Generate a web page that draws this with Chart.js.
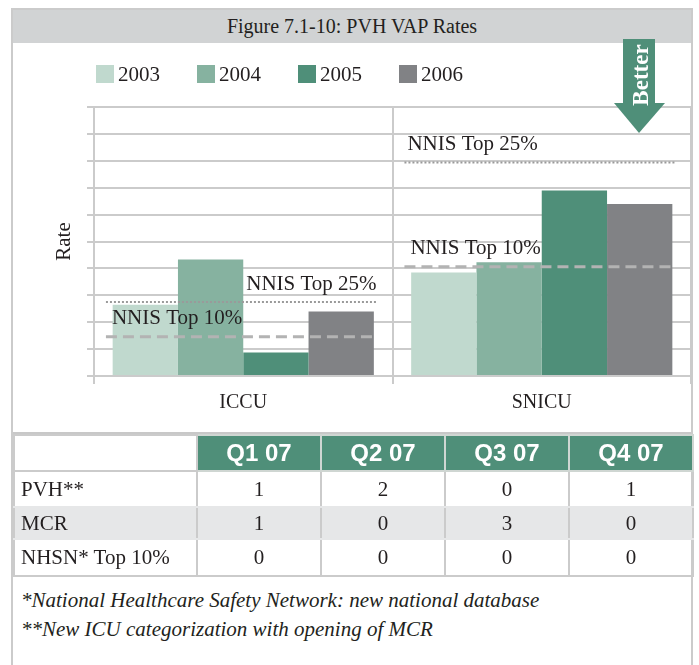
<!DOCTYPE html>
<html>
<head>
<meta charset="utf-8">
<script src="https://cdn.jsdelivr.net/npm/chart.js@4"></script>
<style>
  body { margin: 0; background: #fff; font-family: "Liberation Serif", serif; color: #231f20; }
  #frame { position: absolute; left: 11px; top: 8px; width: 678px; height: 680px; border: 2px solid #cbcbcb; border-bottom: none; }
  #title { position: absolute; left: 13px; top: 10px; width: 678px; height: 33px; background: #d1d3d4; text-align: center; font-size: 20px; line-height: 33px; }
  #chartBox { position: absolute; left: 13px; top: 43px; width: 678px; height: 390px; }
  #legend { position: absolute; left: 96px; top: 62px; display: flex; font-size: 21px; line-height: 24px; }
  #legend .item { width: 101px; display: flex; align-items: center; }
  #legend .sw { width: 18px; height: 18px; margin-right: 4px; }
  #sep { position: absolute; left: 13px; top: 432px; width: 678px; height: 3px; background: #c8c8c8; }
  #tbl { position: absolute; left: 13px; top: 434px; border-collapse: collapse; table-layout: fixed; width: 678px; font-size: 21px; }
  #tbl td, #tbl th { border: 2px solid #cbcbcb; padding: 0; text-align: center; }
  #tbl th { background: #4f8f79; color: #fff; font-family: "Liberation Sans Narrow", "Liberation Sans", sans-serif; font-weight: bold; font-size: 24px; height: 34px; border-color: #cfd6d2; }
  #tbl th.blank { background: #fff; border-color: #cbcbcb; }
  #tbl td.lab { text-align: left; padding-left: 6px; }
  #tbl tr.first td { height: 34px; border-bottom-color: #e6e7e8; }
  #tbl tr.shade td { height: 30px; background: #e6e7e8; border-top-color: #e6e7e8; border-bottom-color: #e6e7e8; }
  #tbl tr.last td { height: 35px; border-top-color: #e6e7e8; }
  #notes { position: absolute; left: 21px; top: 586px; font-size: 21px; font-style: italic; line-height: 29px; }
  #arrow { position: absolute; left: 0; top: 0; }
</style>
</head>
<body>
<div id="frame"></div>
<div id="title">Figure 7.1-10: PVH VAP Rates</div>
<div id="chartBox"><canvas id="myChart" width="678" height="390"></canvas></div>
<div id="legend"></div>
<svg id="arrow" width="699" height="150">
  <rect x="623" y="39" width="32" height="65" fill="#4f8f79"/>
  <polygon points="614,103 665,103 639,133" fill="#4f8f79"/>
  <text x="0" y="0" transform="translate(648,75) rotate(-90)" text-anchor="middle" fill="#fff"
        font-family="Liberation Serif" font-weight="bold" font-size="23">Better</text>
</svg>
<div id="sep"></div>
<table id="tbl"></table>
<div id="notes">*National Healthcare Safety Network: new national database<br>**New ICU categorization with opening of MCR</div>

<script>
const categories = ['ICCU', 'SNICU'];
const years = ['2003', '2004', '2005', '2006'];
const rate2003 = [2.65, 3.85];
const rate2004 = [4.33, 4.23];
const rate2005 = [0.87, 6.9];
const rate2006 = [2.4, 6.39];
const nnisTop25 = [2.75, 7.94];
const nnisTop10 = [1.46, 4.06];

const quarters = ['Q1 07', 'Q2 07', 'Q3 07', 'Q4 07'];
const rowNames = ['PVH**', 'MCR', 'NHSN* Top 10%'];
const pvhCounts = [1, 2, 0, 1];
const mcrCounts = [1, 0, 3, 0];
const nhsnCounts = [0, 0, 0, 0];

const colors = ['#c0d9ce', '#86b2a0', '#4f8f79', '#818285'];
const gridColor = '#cbcbcb';

// legend
const legend = document.getElementById('legend');
years.forEach((y, i) => {
  legend.innerHTML += '<div class="item"><span class="sw" style="background:' + colors[i] + '"></span>' + y + '</div>';
});

// table
const rows = [pvhCounts, mcrCounts, nhsnCounts];
let html = '<colgroup><col style="width:183px">' + quarters.map(() => '<col style="width:124px">').join('') + '</colgroup>';
html += '<tr><th class="blank"></th>' + quarters.map(q => '<th>' + q + '</th>').join('') + '</tr>';
rows.forEach((r, i) => {
  const cls = i == 0 ? 'first' : (i == 1 ? 'shade' : 'last');
  html += '<tr class="' + cls + '"><td class="lab">' + rowNames[i] + '</td>' + r.map(v => '<td>' + v + '</td>').join('') + '</tr>';
});
document.getElementById('tbl').innerHTML = html;

// NNIS reference lines + labels
const nnisLines = {
  id: 'nnisLines',
  afterDatasetsDraw(chart) {
    const ctx = chart.ctx;
    const x = chart.scales.x, y = chart.scales.y;
    const w = x.getPixelForValue(1) - x.getPixelForValue(0);
    const label25 = [0.01, -0.45];
    ctx.save();
    categories.forEach((c, i) => {
      const cx = x.getPixelForValue(i);
      const x0 = cx - 0.46 * w, x1 = cx + 0.45 * w;
      // top 25% dotted
      let yy = y.getPixelForValue(nnisTop25[i]);
      ctx.strokeStyle = '#9a9a9a';
      ctx.lineWidth = 2;
      ctx.setLineDash([2, 2]);
      ctx.beginPath(); ctx.moveTo(x0, yy); ctx.lineTo(x1, yy); ctx.stroke();
      ctx.font = '21px "Liberation Serif"';
      ctx.fillStyle = '#231f20';
      ctx.textBaseline = 'middle';
      ctx.fillText('NNIS Top 25%', cx + label25[i] * w, yy - 18);
      // top 10% dashed
      yy = y.getPixelForValue(nnisTop10[i]);
      ctx.strokeStyle = '#b3b3b3';
      ctx.lineWidth = 3;
      ctx.setLineDash([11, 6]);
      ctx.beginPath(); ctx.moveTo(x0, yy); ctx.lineTo(x1, yy); ctx.stroke();
      ctx.fillText('NNIS Top 10%', cx - 0.44 * w, yy - 18);
    });
    ctx.restore();
  }
};

const ctx = document.getElementById('myChart');

new Chart(ctx, {
  type: 'bar',
  data: {
    labels: categories,
    datasets: [
      { label: years[0], data: rate2003, backgroundColor: colors[0] },
      { label: years[1], data: rate2004, backgroundColor: colors[1] },
      { label: years[2], data: rate2005, backgroundColor: colors[2] },
      { label: years[3], data: rate2006, backgroundColor: colors[3] }
    ]
  },
  options: {
    responsive: false,
    animation: false,
    barPercentage: 1,
    categoryPercentage: 0.875,
    layout: { padding: { left: 20, top: 64, right: 0, bottom: 11 } },
    plugins: {
      legend: { display: false },
      tooltip: { enabled: false }
    },
    scales: {
      x: {
        grid: { color: gridColor, lineWidth: 2, offset: true, drawTicks: true, tickLength: 8 },
        border: { color: gridColor, width: 2 },
        ticks: { color: '#231f20', padding: 7, font: { family: 'Liberation Serif', size: 20 } }
      },
      y: {
        min: 0,
        max: 10,
        grid: { color: gridColor, lineWidth: 2, drawTicks: true, tickLength: 7 },
        border: { color: gridColor, width: 2 },
        ticks: { display: false, stepSize: 1 },
        title: {
          display: true,
          text: 'Rate',
          color: '#231f20',
          font: { family: 'Liberation Serif', size: 21 },
          padding: { top: 18.4, bottom: 10.4 }
        }
      }
    }
  },
  plugins: [nnisLines]
});
</script>
</body>
</html>
